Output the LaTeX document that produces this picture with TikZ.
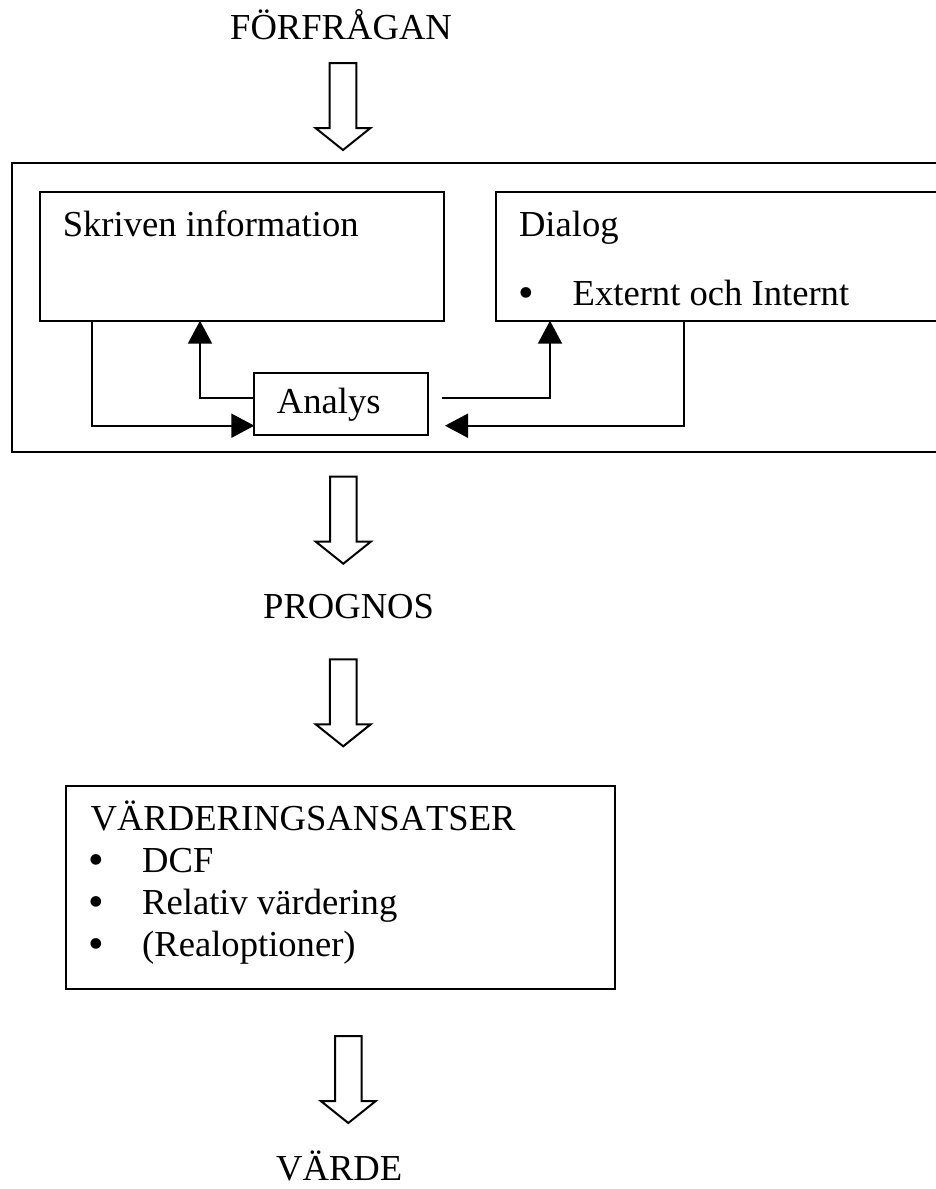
\documentclass[tikz,border=0pt]{standalone}
\usepackage{fontspec}
\setmainfont{Liberation Serif}[Kerning=Off]
\newfontfamily\dotfont{DejaVu Sans}
\usetikzlibrary{arrows.meta}
\begin{document}
\begin{tikzpicture}[x=1pt,y=-1pt,
  font=\fontsize{36.6}{42}\selectfont,
  box/.style={draw, line width=2pt, inner sep=0pt, outer sep=0pt, anchor=north west},
  txt/.style={anchor=base west, inner sep=0pt},
  dot/.style={anchor=base, inner sep=0pt, font=\dotfont\fontsize{36.6}{42}\selectfont},
  conn/.style={line width=2pt, -{Triangle[width=24pt,length=23pt]}},
  pics/bigarrow/.style={code={
    \draw[line width=2pt, line join=miter]
      (-13.3,0) -- (13.3,0) -- (13.3,65) -- (27.5,65) -- (0,87)
      -- (-27.5,65) -- (-13.3,65) -- cycle;}}
]
\useasboundingbox (0,0) rectangle (935,1189);

% request and the first block arrow
\node[txt] (req) at (230,39) {FÖRFRÅGAN};
\pic at (343,63) {bigarrow};

% information-gathering frame
\node[box, minimum width=928pt, minimum height=288.4pt] (frame) at (12,163.3) {};
\node[box, minimum width=404pt, minimum height=129pt] (skriven) at (40,191.7) {};
\node[box, minimum width=444pt, minimum height=129pt] (dialog) at (496,191.7) {};
\node[box, minimum width=174pt, minimum height=61.7pt] (analys) at (254.3,373.3) {};

\node[txt] (skrivtxt) at (62.6,236) {Skriven information};
\node[txt] (dialtxt) at (518.8,236) {Dialog};
\node[dot] (dialdot) at (526,306) {•};
\node[txt] (exttxt) at (572.5,305) {Externt och Internt};
\node[txt] (analtxt) at (276.7,413.3) {Analys};

% feedback loops around the analysis
\coordinate (aR) at (441.7,397.5);
\coordinate (aL) at (445,425.7);
\draw[conn] ([xshift=51.7pt]skriven.south west) |- ([yshift=9.3pt]analys.south west);
\draw[conn] ([yshift=-24.4pt]analys.north west) -| ([xshift=160pt]skriven.south west);
\draw[conn] (aR) -| ([xshift=54pt]dialog.south west);
\draw[conn] ([xshift=188.3pt]dialog.south west) |- (aL);

% forecast
\pic at (343.3,476.7) {bigarrow};
\node[txt] (prog) at (263,618.3) {PROGNOS};
\pic at (343.2,659.3) {bigarrow};

% valuation approaches
\node[box, minimum width=548.2pt, minimum height=203.3pt] (vard) at (66.4,786) {};
\node[txt] (vardtxt) at (90.4,830) {VÄRDERINGSANSATSER};
\node[dot] (d1) at (96,873) {•};
\node[txt] (i1) at (142,872) {DCF};
\node[dot] (d2) at (96,915) {•};
\node[txt] (i2) at (142,914) {Relativ värdering};
\node[dot] (d3) at (96,957) {•};
\node[txt] (i3) at (142,956) {(Realoptioner)};

% value
\pic at (348.3,1036) {bigarrow};
\node[txt] (value) at (276,1180) {VÄRDE};
\end{tikzpicture}
\end{document}
